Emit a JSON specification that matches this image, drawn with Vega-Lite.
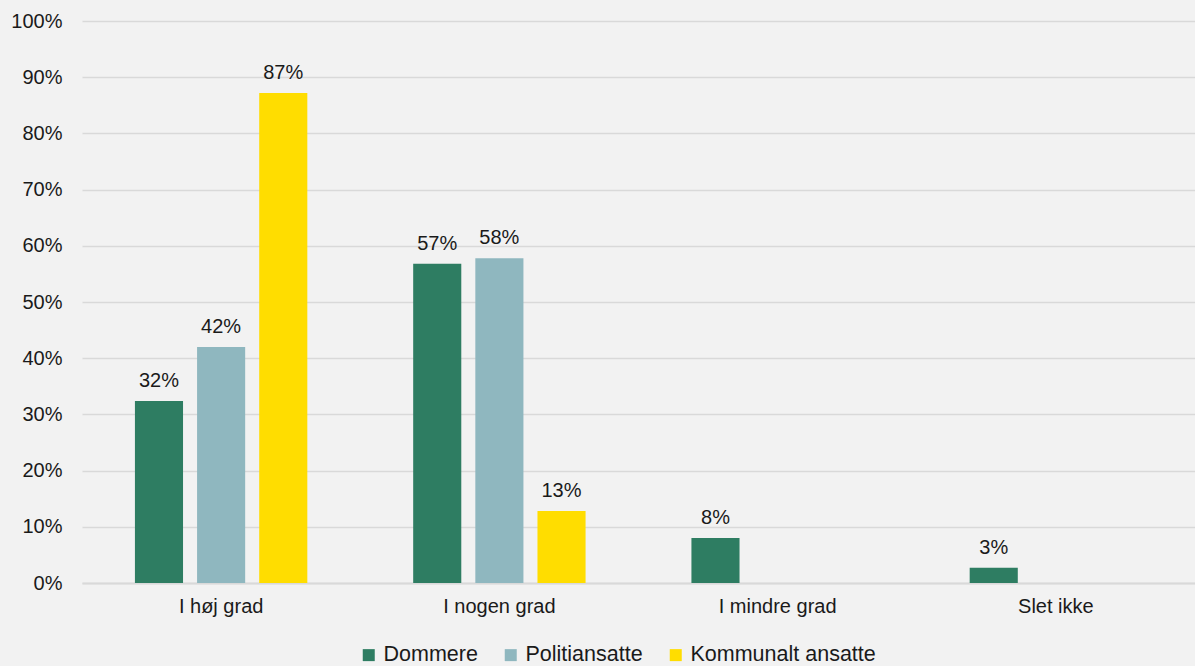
{
  "$schema": "https://vega.github.io/schema/vega-lite/v6.json",
  "width": 1113,
  "height": 562,
  "autosize": {"type": "none"},
  "padding": {"left": 82, "top": 21, "right": 0, "bottom": 83},
  "background": "#f2f2f2",
  "config": {
    "view": {"stroke": null},
    "font": "Liberation Sans",
    "axis": {"labelFont": "Liberation Sans", "labelFontSize": 20, "labelColor": "#1a1a1a"},
    "legend": {"labelFont": "Liberation Sans", "labelFontSize": 21.5, "labelColor": "#1a1a1a"}
  },
  "data": {
    "values": [
      {"kategori": "I høj grad", "gruppe": "Dommere", "andel": 0.324},
      {"kategori": "I høj grad", "gruppe": "Politiansatte", "andel": 0.42},
      {"kategori": "I høj grad", "gruppe": "Kommunalt ansatte", "andel": 0.872},
      {"kategori": "I nogen grad", "gruppe": "Dommere", "andel": 0.568},
      {"kategori": "I nogen grad", "gruppe": "Politiansatte", "andel": 0.578},
      {"kategori": "I nogen grad", "gruppe": "Kommunalt ansatte", "andel": 0.128},
      {"kategori": "I mindre grad", "gruppe": "Dommere", "andel": 0.08},
      {"kategori": "Slet ikke", "gruppe": "Dommere", "andel": 0.027}
    ]
  },
  "encoding": {
    "x": {
      "field": "kategori", "type": "nominal",
      "sort": ["I høj grad", "I nogen grad", "I mindre grad", "Slet ikke"],
      "scale": {"paddingInner": 0.33, "paddingOuter": 0.165},
      "axis": {"title": null, "labelAngle": 0, "ticks": false, "domainColor": "#d9d9d9", "domainWidth": 2, "labelPadding": 13}
    },
    "xOffset": {
      "field": "gruppe", "type": "nominal",
      "sort": ["Dommere", "Politiansatte", "Kommunalt ansatte"],
      "scale": {"paddingInner": 0.226, "paddingOuter": 0.113}
    },
    "y": {
      "field": "andel", "type": "quantitative",
      "scale": {"domain": [0, 1]},
      "axis": {"title": null, "format": ".0%", "values": [0, 0.1, 0.2, 0.3, 0.4, 0.5, 0.6, 0.7, 0.8, 0.9, 1], "labelOverlap": false, "domain": false, "ticks": false, "gridColor": "#d9d9d9", "gridWidth": 1.5, "labelPadding": 20}
    }
  },
  "layer": [
    {
      "mark": {"type": "bar"},
      "encoding": {
        "color": {
          "field": "gruppe", "type": "nominal",
          "sort": ["Dommere", "Politiansatte", "Kommunalt ansatte"],
          "scale": {"domain": ["Dommere", "Politiansatte", "Kommunalt ansatte"], "range": ["#2e7d62", "#8fb7bf", "#ffdd00"]},
          "legend": {"orient": "none", "legendX": 276, "legendY": 623, "direction": "horizontal", "title": null, "symbolType": "square", "symbolSize": 144, "symbolStrokeWidth": 0, "labelOffset": 4, "columnPadding": 22, "labelLimit": 400}
        }
      }
    },
    {
      "mark": {"type": "text", "baseline": "alphabetic", "dy": -14, "fontSize": 20, "color": "#1a1a1a"},
      "encoding": {
        "text": {"field": "andel", "type": "quantitative", "format": ".0%"}
      }
    }
  ]
}
